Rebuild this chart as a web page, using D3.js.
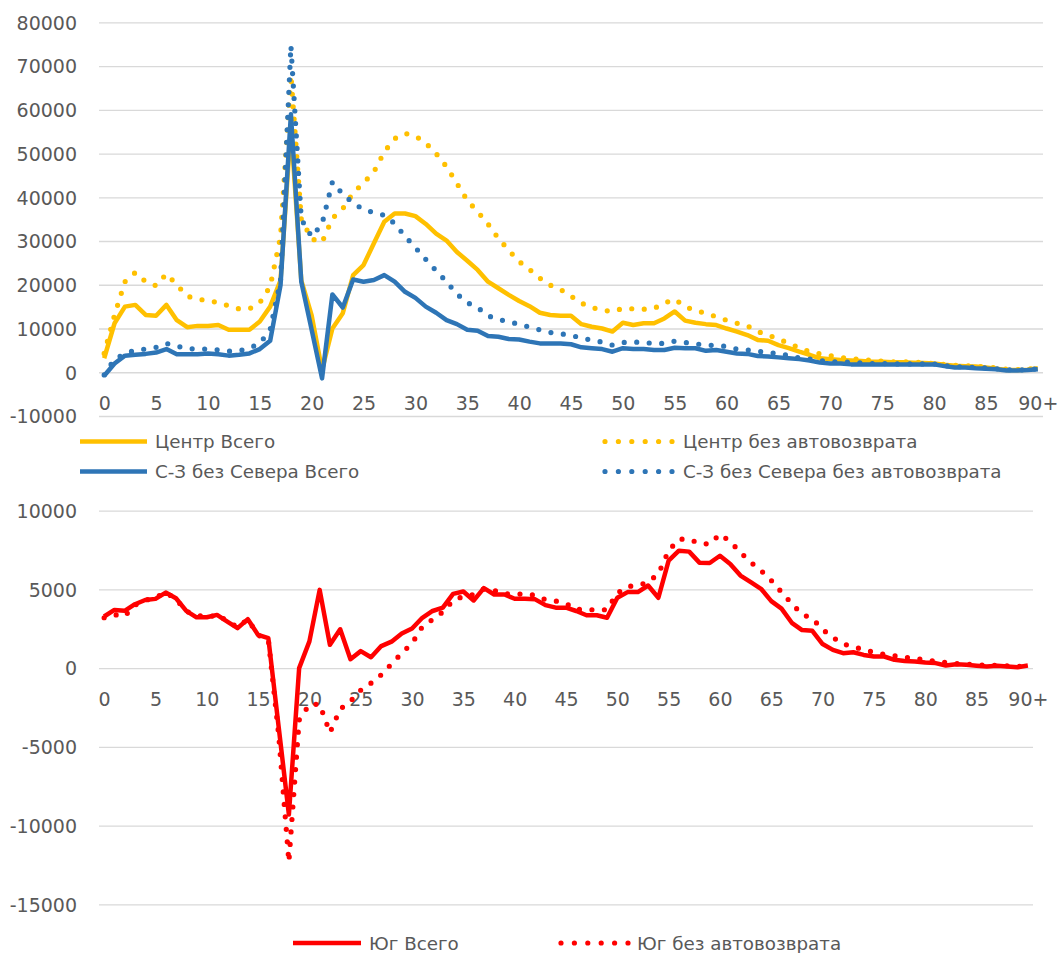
<!DOCTYPE html>
<html>
<head>
<meta charset="utf-8">
<script src="https://cdn.jsdelivr.net/npm/d3@7"></script>
<style>
  html, body { margin: 0; padding: 0; background: #fff; }
  svg { display: block; }
  text { font-family: "DejaVu Sans", sans-serif; fill: #595959; }
</style>
</head>
<body>
<svg id="chart" width="1059" height="953"></svg>
<script>
// ---------- data ----------
const categories = d3.range(0, 90).map(String).concat(["90+"]);
const xTickLabels = ["0","5","10","15","20","25","30","35","40","45","50","55","60","65","70","75","80","85","90+"];

const topYTicks = [-10000, 0, 10000, 20000, 30000, 40000, 50000, 60000, 70000, 80000];
const bottomYTicks = [-15000, -10000, -5000, 0, 5000, 10000];

const centerTotal = [3200,11200,15000,15400,13100,12900,15400,11900,10300,10600,
  10600,10800,9700,9700,9700,11600,15000,21000,56000,21000,
  13000,500,10000,13500,22200,24500,29500,34400,36300,36300,
  35700,33900,31700,30100,27500,25500,23400,20700,19200,17700,
  16300,15100,13600,13100,12900,12900,11000,10400,10000,9300,
  11300,10800,11200,11200,12300,13900,11800,11300,11000,10800,
  10000,9300,8500,7400,7200,6200,5500,4700,4000,3200,
  3000,2800,2700,2600,2400,2400,2300,2300,2200,2100,
  2000,1700,1500,1400,1300,1100,800,500,500,600,900];

const centerNoAuto = [4300,13100,20700,22800,20700,19800,22500,20000,17400,16700,
  16400,15900,15200,14500,14500,15900,19600,31000,68000,35000,
  30500,29700,35200,37400,41000,43300,45800,50400,53400,54600,
  54000,52400,50000,47000,43200,39300,36700,33900,30600,27900,
  25300,23500,21500,19900,18900,17400,15800,14800,14200,13900,
  14600,14500,14400,14600,15800,16700,15000,14100,13500,12700,
  11900,11200,10600,9300,8500,7600,6600,5600,4700,4200,
  3800,3400,3100,2900,2700,2500,2400,2400,2300,2200,
  2000,1800,1600,1500,1400,1200,1000,700,600,700,1000];

const nwTotal = [-800,2000,3800,4000,4200,4500,5300,4100,4100,4100,
  4300,4100,3800,4000,4300,5300,7200,19900,59000,20700,
  9700,-1400,17800,14800,21200,20700,21100,22200,20700,18400,
  17000,15000,13600,11900,11000,9700,9500,8300,8100,7600,
  7500,7000,6600,6600,6600,6400,5700,5500,5300,4700,
  5500,5300,5300,5100,5100,5600,5500,5500,4900,5100,
  4700,4300,4200,3700,3600,3400,3200,3000,2700,2200,
  2000,2000,1800,1800,1800,1800,1800,1800,1800,1800,
  1800,1400,1100,1100,900,800,700,400,400,500,700];

const nwNoAuto = [-600,3000,4200,5100,5300,5700,6600,6000,5400,5300,
  5300,5100,4800,4900,5500,6600,9700,21000,74700,35000,
  31000,33900,43500,40700,38700,37200,36500,35900,34000,31100,
  28500,25800,23200,20700,17900,15900,14800,12900,12100,11500,
  11000,10300,9700,9100,8800,8400,7900,7300,6900,6200,
  6800,6900,6800,6600,6600,7100,6800,6500,6200,6100,
  5900,5300,5100,4800,4500,4300,3800,3300,3000,2700,
  2400,2400,2300,2100,2000,2000,1900,1900,1900,1900,
  1900,1500,1300,1200,1100,1000,800,600,500,600,800];

const southTotal = [3280,3700,3640,4060,4330,4400,4800,4440,3640,3230,
  3230,3380,2960,2540,3110,2110,1900,-3700,-9300,0,
  1700,4970,1480,2470,570,1080,690,1400,1680,2200,
  2520,3200,3630,3840,4720,4870,4300,5080,4680,4680,
  4410,4410,4370,4000,3840,3840,3630,3360,3360,3200,
  4470,4830,4830,5250,4470,6830,7460,7400,6700,6680,
  7140,6620,5880,5460,5040,4260,3780,2880,2420,2370,
  1530,1160,950,1010,840,740,740,530,460,420,
  360,320,170,250,210,150,100,150,100,60,170];

const southNoAuto = [3200,3400,3300,4000,4300,4500,4800,4400,3600,3400,
  3200,3400,3000,2600,3100,2100,1800,-4200,-12300,-3300,
  -2300,-2300,-4100,-2600,-2100,-1400,-950,-420,270,950,
  1580,2630,3090,3570,4300,4560,4680,5040,4940,4730,
  4680,4730,4620,4350,4260,4100,3720,3740,3680,3720,
  4770,5190,5250,5460,5990,7460,8190,8190,7920,7880,
  8510,8040,7350,6720,6200,5570,4830,4100,3420,3150,
  2460,1950,1530,1370,1160,1010,880,780,690,610,
  530,440,360,290,250,210,190,170,150,100,170];

const topSeries = [
  { name: "Центр Всего", values: centerTotal, color: "#FFC000", dotted: false },
  { name: "Центр без автовозврата", values: centerNoAuto, color: "#FFC000", dotted: true },
  { name: "С-З без Севера Всего", values: nwTotal, color: "#2E75B6", dotted: false },
  { name: "С-З без Севера без автовозврата", values: nwNoAuto, color: "#2E75B6", dotted: true }
];
const bottomSeries = [
  { name: "Юг Всего", values: southTotal, color: "#FF0000", dotted: false },
  { name: "Юг без автовозврата", values: southNoAuto, color: "#FF0000", dotted: true }
];

// ---------- drawing ----------
const svg = d3.select("#chart");
svg.append("rect").attr("width", 1059).attr("height", 953).attr("fill", "#fff");

const LW = 4.5;
const DW = 5.2;
const DASH = "0,12.5";

function styleLine(sel, s) {
  sel.attr("fill", "none")
     .attr("stroke", s.color)
     .attr("stroke-width", s.dotted ? DW : LW)
     .attr("stroke-linejoin", "round")
     .attr("stroke-linecap", s.dotted ? "round" : "butt");
  if (s.dotted) sel.attr("stroke-dasharray", DASH);
  return sel;
}

function panel(opts) {
  const x = d3.scalePoint().domain(categories).range([opts.left, opts.right]).padding(0.5);
  const y = d3.scaleLinear().domain([opts.yMin, opts.yMax]).range([opts.bottom, opts.top]);
  const g = svg.append("g");

  // gridlines + y labels
  const yAxis = d3.axisLeft(y).tickValues(opts.yTicks)
    .tickSize(-(opts.right - opts.left)).tickPadding(22).tickFormat(d => String(d));
  const ya = g.append("g").attr("transform", `translate(${opts.left},0)`).call(yAxis);
  ya.select(".domain").remove();
  ya.selectAll(".tick line").attr("stroke", "#D9D9D9").attr("stroke-width", 1.3);
  ya.selectAll(".tick text").attr("fill", "#595959").attr("font-size", 19)
    .attr("font-family", "DejaVu Sans").attr("dy", "0.36em");

  // x labels next to zero
  const xAxis = d3.axisBottom(x).tickValues(xTickLabels).tickSize(0).tickPadding(0);
  const xa = g.append("g").attr("transform", `translate(0,${y(0)})`).call(xAxis);
  xa.select(".domain").remove();
  xa.selectAll(".tick text").attr("fill", "#595959").attr("font-size", 19)
    .attr("font-family", "DejaVu Sans").attr("y", 31).attr("dy", "0.36em");

  const line = d3.line().x((d, i) => x(categories[i])).y(d => y(d));
  opts.series.forEach(s => {
    styleLine(g.append("path").datum(s.values).attr("d", line), s);
  });
  return { x, y };
}

panel({ left: 99, right: 1043, top: 22.3, bottom: 416, yMin: -10000, yMax: 80000,
        yTicks: topYTicks, series: topSeries });
panel({ left: 99, right: 1033, top: 510.7, bottom: 904.3, yMin: -15000, yMax: 10000,
        yTicks: bottomYTicks, series: bottomSeries });

// ---------- legends ----------
function legendItem(s, x1, x2, tx, yy) {
  const g = svg.append("g");
  styleLine(g.append("line").attr("x1", x1).attr("x2", x2).attr("y1", yy).attr("y2", yy), s)
    .attr("stroke-dasharray", s.dotted ? "0,13.4" : null);
  g.append("text").attr("x", tx).attr("y", yy).attr("dy", "0.36em")
    .attr("font-size", 18.3).text(s.name);
}
legendItem(topSeries[0], 80, 147, 155, 441.5);
legendItem(topSeries[1], 605, 672, 683, 441.5);
legendItem(topSeries[2], 80, 147, 155, 471.5);
legendItem(topSeries[3], 605, 672, 683, 471.5);
legendItem(bottomSeries[0], 293, 361, 369, 943);
legendItem(bottomSeries[1], 561, 628, 637, 943);
</script>
</body>
</html>
